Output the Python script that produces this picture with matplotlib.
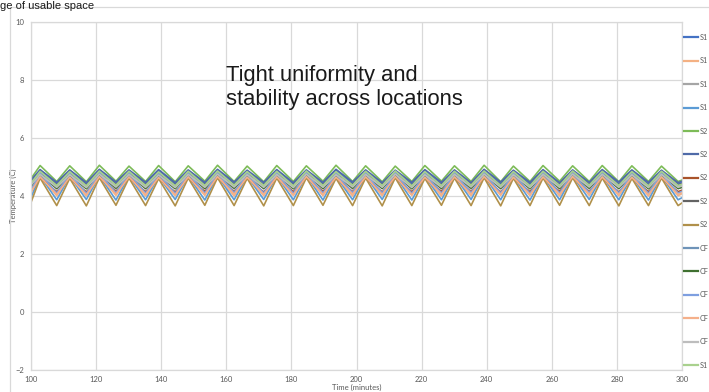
import matplotlib
matplotlib.use("Agg")
import matplotlib.pyplot as plt
from matplotlib.patches import Rectangle

W, H = 709, 392

# ---- data ----
time_min = [100.0, 102.8, 107.9, 111.9, 117.0, 121.0, 126.1, 130.1, 135.2, 139.2, 144.3,
            148.3, 153.4, 157.3, 162.4, 166.4, 171.5, 175.5, 180.6, 184.6, 189.7, 193.7,
            198.8, 202.8, 207.9, 211.9, 217.0, 221.0, 226.1, 230.1, 235.2, 239.2, 244.3,
            248.2, 253.3, 257.3, 262.4, 266.4, 271.5, 275.5, 280.6, 284.6, 289.7, 293.7,
            298.8, 300.0]

s1_a = [4.50, 4.88, 4.42, 4.87, 4.41, 4.89, 4.43, 4.86, 4.42, 4.88, 4.41, 4.87, 4.42, 4.88, 4.43,
        4.86, 4.41, 4.89, 4.42, 4.87, 4.42, 4.88, 4.43, 4.87, 4.41, 4.86, 4.42, 4.88, 4.42, 4.87,
        4.41, 4.89, 4.43, 4.86, 4.42, 4.88, 4.41, 4.87, 4.42, 4.88, 4.43, 4.87, 4.42, 4.86, 4.41, 4.47]
s1_b = [4.12, 4.70, 4.01, 4.69, 4.00, 4.71, 4.02, 4.70, 4.00, 4.68, 4.01, 4.70, 4.02, 4.71, 4.00,
        4.69, 4.01, 4.70, 4.02, 4.72, 4.01, 4.69, 4.00, 4.70, 4.01, 4.71, 4.02, 4.69, 4.00, 4.70,
        4.01, 4.71, 4.02, 4.69, 4.01, 4.70, 4.00, 4.71, 4.02, 4.70, 4.01, 4.69, 4.00, 4.70, 4.01, 4.08]
s1_c = [4.35, 4.76, 4.25, 4.75, 4.26, 4.77, 4.24, 4.76, 4.25, 4.74, 4.26, 4.76, 4.25, 4.77, 4.24,
        4.75, 4.25, 4.76, 4.26, 4.77, 4.25, 4.75, 4.24, 4.76, 4.25, 4.77, 4.26, 4.75, 4.25, 4.76,
        4.24, 4.77, 4.25, 4.75, 4.26, 4.76, 4.25, 4.77, 4.24, 4.76, 4.25, 4.75, 4.26, 4.76, 4.25, 4.30]
s1_d = [3.95, 4.69, 3.87, 4.68, 3.88, 4.70, 3.86, 4.69, 3.87, 4.67, 3.88, 4.69, 3.86, 4.70, 3.87,
        4.68, 3.88, 4.69, 3.87, 4.71, 3.86, 4.68, 3.87, 4.69, 3.88, 4.70, 3.86, 4.68, 3.87, 4.69,
        3.88, 4.70, 3.87, 4.68, 3.86, 4.69, 3.87, 4.70, 3.88, 4.69, 3.87, 4.68, 3.86, 4.69, 3.87, 3.94]
s2_a = [4.60, 5.05, 4.50, 5.04, 4.49, 5.06, 4.51, 5.03, 4.50, 5.05, 4.49, 5.04, 4.51, 5.06, 4.50,
        5.03, 4.49, 5.05, 4.50, 5.04, 4.51, 5.06, 4.50, 5.04, 4.49, 5.03, 4.50, 5.05, 4.51, 5.04,
        4.50, 5.06, 4.49, 5.03, 4.50, 5.05, 4.51, 5.04, 4.50, 5.05, 4.49, 5.04, 4.50, 5.03, 4.50, 4.55]
s2_b = [4.55, 4.91, 4.47, 4.90, 4.46, 4.92, 4.48, 4.90, 4.47, 4.91, 4.46, 4.90, 4.47, 4.92, 4.48,
        4.89, 4.47, 4.91, 4.46, 4.90, 4.47, 4.92, 4.48, 4.90, 4.46, 4.89, 4.47, 4.91, 4.47, 4.90,
        4.46, 4.92, 4.48, 4.89, 4.47, 4.91, 4.46, 4.90, 4.47, 4.91, 4.48, 4.90, 4.47, 4.89, 4.46, 4.51]
s2_c = [4.22, 4.62, 4.15, 4.61, 4.14, 4.63, 4.16, 4.62, 4.15, 4.60, 4.14, 4.62, 4.16, 4.63, 4.15,
        4.61, 4.14, 4.62, 4.15, 4.63, 4.16, 4.61, 4.15, 4.62, 4.14, 4.63, 4.15, 4.61, 4.16, 4.62,
        4.15, 4.63, 4.14, 4.61, 4.15, 4.62, 4.16, 4.63, 4.15, 4.62, 4.14, 4.61, 4.15, 4.62, 4.15, 4.20]
s2_d = [4.46, 4.82, 4.38, 4.81, 4.37, 4.83, 4.39, 4.82, 4.38, 4.80, 4.37, 4.82, 4.38, 4.83, 4.39,
        4.81, 4.38, 4.82, 4.37, 4.83, 4.38, 4.81, 4.39, 4.82, 4.38, 4.83, 4.37, 4.81, 4.38, 4.82,
        4.39, 4.83, 4.38, 4.81, 4.37, 4.82, 4.38, 4.83, 4.39, 4.82, 4.38, 4.81, 4.37, 4.82, 4.38, 4.42]
s2_e = [3.78, 4.62, 3.67, 4.61, 3.66, 4.63, 3.68, 4.62, 3.67, 4.60, 3.66, 4.62, 3.68, 4.63, 3.67,
        4.61, 3.66, 4.62, 3.67, 4.63, 3.68, 4.61, 3.67, 4.62, 3.66, 4.63, 3.67, 4.61, 3.68, 4.62,
        3.67, 4.63, 3.66, 4.61, 3.67, 4.62, 3.68, 4.63, 3.67, 4.62, 3.66, 4.61, 3.67, 4.62, 3.67, 3.76]
cf_a = [4.43, 4.84, 4.35, 4.83, 4.34, 4.85, 4.36, 4.84, 4.35, 4.82, 4.34, 4.84, 4.35, 4.85, 4.36,
        4.83, 4.35, 4.84, 4.34, 4.85, 4.35, 4.83, 4.36, 4.84, 4.35, 4.85, 4.34, 4.83, 4.35, 4.84,
        4.36, 4.85, 4.35, 4.83, 4.34, 4.84, 4.35, 4.85, 4.36, 4.84, 4.35, 4.83, 4.34, 4.84, 4.35, 4.40]
cf_b = [4.33, 4.73, 4.26, 4.72, 4.25, 4.74, 4.27, 4.73, 4.26, 4.71, 4.25, 4.73, 4.26, 4.74, 4.27,
        4.72, 4.26, 4.73, 4.25, 4.74, 4.26, 4.72, 4.27, 4.73, 4.26, 4.74, 4.25, 4.72, 4.26, 4.73,
        4.27, 4.74, 4.26, 4.72, 4.25, 4.73, 4.26, 4.74, 4.27, 4.73, 4.26, 4.72, 4.25, 4.73, 4.26, 4.30]
cf_c = [4.20, 4.78, 4.10, 4.77, 4.09, 4.79, 4.11, 4.78, 4.10, 4.76, 4.09, 4.78, 4.10, 4.79, 4.11,
        4.77, 4.10, 4.78, 4.09, 4.79, 4.10, 4.77, 4.11, 4.78, 4.10, 4.79, 4.09, 4.77, 4.10, 4.78,
        4.11, 4.79, 4.10, 4.77, 4.09, 4.78, 4.10, 4.79, 4.11, 4.78, 4.10, 4.77, 4.09, 4.78, 4.10, 4.16]
cf_d = [4.14, 4.66, 4.05, 4.65, 4.04, 4.67, 4.06, 4.66, 4.05, 4.64, 4.04, 4.66, 4.05, 4.67, 4.06,
        4.65, 4.05, 4.66, 4.04, 4.67, 4.05, 4.65, 4.06, 4.66, 4.05, 4.67, 4.04, 4.65, 4.05, 4.66,
        4.06, 4.67, 4.05, 4.65, 4.04, 4.66, 4.05, 4.67, 4.06, 4.66, 4.05, 4.65, 4.04, 4.66, 4.05, 4.11]
cf_e = [4.38, 4.74, 4.30, 4.73, 4.29, 4.75, 4.31, 4.74, 4.30, 4.72, 4.29, 4.74, 4.30, 4.75, 4.31,
        4.73, 4.30, 4.74, 4.29, 4.75, 4.30, 4.73, 4.31, 4.74, 4.30, 4.75, 4.29, 4.73, 4.30, 4.74,
        4.31, 4.75, 4.30, 4.73, 4.29, 4.74, 4.30, 4.75, 4.31, 4.74, 4.30, 4.73, 4.29, 4.74, 4.30, 4.35]
s1_f = [4.44, 4.85, 4.36, 4.84, 4.35, 4.86, 4.37, 4.85, 4.36, 4.83, 4.35, 4.85, 4.36, 4.86, 4.37,
        4.84, 4.36, 4.85, 4.35, 4.86, 4.36, 4.84, 4.37, 4.85, 4.36, 4.86, 4.35, 4.84, 4.36, 4.85,
        4.37, 4.86, 4.36, 4.84, 4.35, 4.85, 4.36, 4.86, 4.37, 4.85, 4.36, 4.84, 4.35, 4.85, 4.36, 4.40]

series_labels = ["S1", "S1", "S1", "S1", "S2", "S2", "S2", "S2", "S2",
                 "CF", "CF", "CF", "CF", "CF", "S1"]
series_values = [s1_a, s1_b, s1_c, s1_d, s2_a, s2_b, s2_c, s2_d, s2_e,
                 cf_a, cf_b, cf_c, cf_d, cf_e, s1_f]
series_colors = ["#4472C4", "#F4B183", "#A5A5A5", "#5B9BD5", "#7DBB58", "#4F6AA8",
                 "#A9532A", "#636363", "#B0904A", "#6E93B8", "#3F7030", "#7E9FE0",
                 "#F5B08A", "#BDBDBD", "#A9D18E"]

x_ticks = [100, 120, 140, 160, 180, 200, 220, 240, 260, 280, 300]
y_ticks = [-2, 0, 2, 4, 6, 8, 10]

# ---- figure ----
fig = plt.figure(figsize=(W / 100, H / 100), dpi=100)

def fx(px):
    return px / W

def fy(py):
    return 1 - py / H

# outer chart border (cropped)
fig.patches.append(Rectangle((fx(10), -0.1), 1.2, fy(7) + 0.1, transform=fig.transFigure,
                             fill=False, edgecolor="#D9D9D9", lw=0.9))

ax = fig.add_axes([fx(31), fy(370), fx(682) - fx(31), fy(22) - fy(370)])

for vals, lab, col in zip(series_values, series_labels, series_colors):
    ax.plot(time_min, vals, color=col, lw=1.2, label=lab, solid_joinstyle="round")

ax.set_xlim(100, 300)
ax.set_ylim(-2, 10)
ax.set_xticks(x_ticks)
ax.set_yticks(y_ticks)
ax.grid(True, color="#D9D9D9", lw=0.9)
ax.set_axisbelow(True)
for s in ax.spines.values():
    s.set_color("#D9D9D9")
    s.set_linewidth(0.9)
ax.tick_params(length=0, labelsize=5.5, labelcolor="#595959")
ax.tick_params(axis="y", pad=5)
ax.tick_params(axis="x", pad=4)
for t in ax.get_xticklabels() + ax.get_yticklabels():
    t.set_family("Lato")

ax.set_xlabel("Time (minutes)", fontsize=5.5, color="#595959", family="Lato")
ax.xaxis.set_label_coords(0.5, -(387 - 370) / (370 - 22))
ax.xaxis.label.set_va("center")
ax.set_ylabel("Temperature (C)", fontsize=5.5, color="#595959", family="Lato")
ax.yaxis.set_label_coords(-(31 - 13) / (682 - 31), 0.5)
ax.yaxis.label.set_va("center")

leg = ax.legend(loc="upper left", bbox_to_anchor=(fx(684), fy(34)),
                bbox_transform=fig.transFigure, frameon=False,
                handlelength=2.0, handletextpad=0.22, labelspacing=2.27,
                borderpad=0, borderaxespad=0, prop={"family": "Lato", "size": 5.2})
for t in leg.get_texts():
    t.set_color("#595959")
for l in leg.get_lines():
    l.set_linewidth(1.6)

fig.text(fx(226), fy(65), "Tight uniformity and\nstability across locations",
         fontsize=15.8, family="Liberation Sans", color="#1a1a1a", va="top",
         ha="left", linespacing=1.2)

fig.text(fx(0.5), fy(8.6), "ge of usable space", fontsize=8.0,
         family="Liberation Sans", color="#1a1a1a", ha="left", va="baseline")

fig.savefig("out.png", dpi=100)
